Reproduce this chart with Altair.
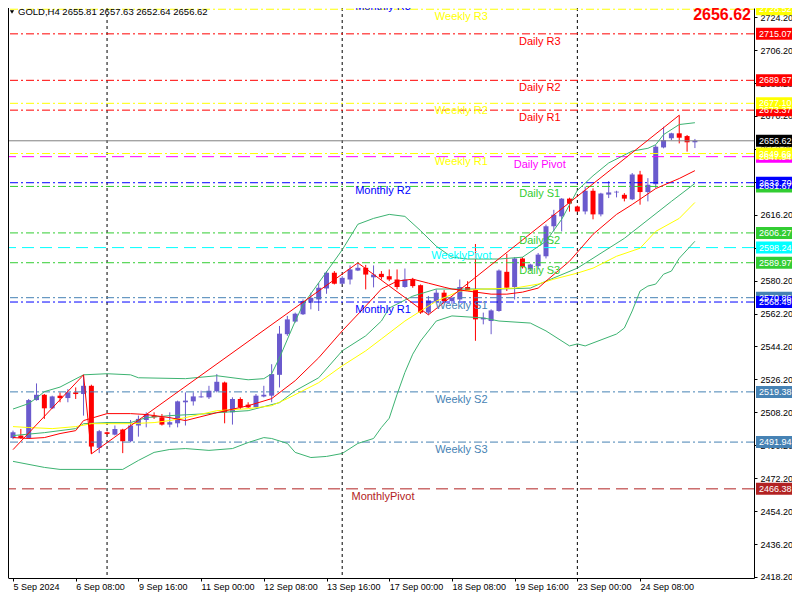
import altair as alt
import pandas as pd

# ---------------- data ----------------
SYMBOL = "GOLD,H4"
TIME_LABELS = ["5 Sep 2024", "6 Sep 08:00", "9 Sep 16:00", "11 Sep 00:00", "12 Sep 08:00",
               "13 Sep 16:00", "17 Sep 00:00", "18 Sep 08:00", "19 Sep 16:00", "23 Sep 00:00",
               "24 Sep 08:00"]
TIME_TICK_BARS = [0, 8, 16, 24, 32, 40, 48, 56, 64, 72, 80]
WEEK_SEPARATORS = [12, 42, 72]
Y_TICKS = [2418.20, 2436.20, 2454.20, 2472.20, 2490.20, 2508.20, 2526.20, 2544.20, 2562.20,
           2580.20, 2598.20, 2616.20, 2634.20, 2652.20, 2670.20, 2688.20, 2706.20, 2724.20]

OPEN = [2494.2, 2495.5, 2494.2, 2514.9, 2517.8, 2510.4, 2517.3, 2516.0, 2519.1, 2518.2,
        2522.7, 2488.8, 2497.3, 2496.0, 2498.8, 2492.4, 2501.0, 2504.0, 2506.4, 2505.5,
        2501.5, 2502.2, 2513.7, 2514.2, 2516.4, 2516.4, 2519.7, 2524.5, 2508.2, 2515.5,
        2512.4, 2511.0, 2516.9, 2517.3, 2528.7, 2550.9, 2557.8, 2561.8, 2568.1, 2569.9,
        2575.9, 2584.5, 2578.5, 2580.8, 2585.7, 2587.2, 2582.0, 2583.9, 2582.6, 2580.8,
        2576.7, 2580.8, 2577.7, 2562.7, 2568.7, 2573.6, 2569.0, 2569.9, 2576.7, 2575.4,
        2559.0, 2558.1, 2563.6, 2585.0, 2576.7, 2592.3, 2586.3, 2588.1, 2593.5, 2609.9,
        2615.3, 2625.0, 2620.7, 2618.0, 2629.3, 2616.4, 2627.2, 2628.4, 2627.1, 2624.6,
        2638.2, 2628.6, 2632.9, 2653.0, 2658.0, 2660.7, 2659.2, 2655.81]
HIGH = [2498.2, 2499.1, 2515.5, 2524.0, 2518.2, 2517.3, 2519.1, 2520.9, 2521.8, 2528.7,
        2523.3, 2498.6, 2497.7, 2501.0, 2499.2, 2504.0, 2506.4, 2508.2, 2508.2, 2507.3,
        2508.2, 2514.6, 2519.1, 2519.1, 2520.0, 2522.7, 2529.1, 2525.0, 2516.4, 2516.4,
        2513.7, 2518.2, 2522.7, 2534.5, 2555.4, 2560.9, 2562.7, 2569.9, 2573.6, 2579.0,
        2585.4, 2585.4, 2582.6, 2588.5, 2589.9, 2588.8, 2588.5, 2585.4, 2586.3, 2586.3,
        2586.8, 2581.7, 2578.1, 2571.8, 2575.4, 2575.0, 2571.5, 2580.8, 2579.9, 2600.2,
        2562.7, 2564.5, 2586.3, 2594.8, 2593.0, 2593.0, 2589.4, 2595.3, 2610.8, 2618.9,
        2625.3, 2625.5, 2621.2, 2631.6, 2630.6, 2628.2, 2634.6, 2629.3, 2628.0, 2639.0,
        2640.2, 2636.2, 2654.3, 2664.3, 2661.0, 2670.6, 2659.8, 2657.63]
LOW = [2493.5, 2493.7, 2493.7, 2514.6, 2504.6, 2510.0, 2513.7, 2513.7, 2515.5, 2506.4,
       2485.5, 2485.9, 2496.0, 2495.6, 2485.9, 2491.8, 2494.9, 2500.0, 2504.6, 2501.0,
       2500.0, 2500.0, 2501.0, 2511.9, 2516.2, 2515.5, 2519.1, 2502.2, 2501.5, 2510.0,
       2510.6, 2510.9, 2516.4, 2513.7, 2521.8, 2550.0, 2557.2, 2561.4, 2564.5, 2563.6,
       2573.0, 2578.1, 2578.1, 2578.1, 2585.4, 2575.4, 2576.5, 2580.8, 2579.9, 2575.4,
       2576.3, 2576.3, 2562.0, 2561.5, 2568.1, 2568.1, 2567.5, 2569.0, 2574.5, 2547.3,
       2556.3, 2550.9, 2563.2, 2574.5, 2569.9, 2586.8, 2585.4, 2586.3, 2592.3, 2607.1,
       2607.1, 2617.9, 2617.7, 2616.4, 2613.7, 2615.3, 2625.3, 2625.7, 2623.5, 2624.2,
       2621.7, 2623.5, 2630.8, 2652.5, 2657.0, 2655.2, 2650.7, 2652.64]
CLOSE = [2497.3, 2494.2, 2514.9, 2517.8, 2510.4, 2516.9, 2516.0, 2519.1, 2518.2, 2522.7,
         2489.5, 2497.9, 2496.4, 2499.1, 2492.4, 2501.0, 2504.6, 2507.3, 2505.5, 2501.5,
         2502.8, 2514.2, 2514.6, 2516.9, 2516.9, 2520.0, 2524.9, 2508.2, 2515.5, 2510.9,
         2510.9, 2517.3, 2517.8, 2529.1, 2551.2, 2559.0, 2562.1, 2569.0, 2570.8, 2576.3,
         2584.5, 2578.5, 2581.7, 2586.3, 2587.2, 2583.5, 2583.5, 2582.1, 2580.8, 2576.7,
         2580.8, 2577.2, 2562.7, 2569.4, 2573.6, 2569.0, 2570.8, 2576.7, 2574.9, 2559.0,
         2559.9, 2563.9, 2585.7, 2576.3, 2592.3, 2587.5, 2589.0, 2594.4, 2609.9, 2616.2,
         2625.0, 2622.3, 2618.0, 2629.3, 2616.4, 2627.8, 2628.4, 2628.8, 2625.0, 2638.2,
         2628.6, 2632.6, 2653.4, 2657.0, 2660.7, 2658.3, 2655.8, 2656.62]

# Bollinger upper / middle / lower (green), red MA, yellow MA, zigzag
UB_X = [0, 2, 3, 4, 6, 9, 12, 15, 16, 22, 26, 30, 32, 33, 34, 36, 37, 38, 39, 40, 42, 44, 46,
        48, 50, 52, 54, 56, 58, 62, 65, 68, 70, 72, 74, 76, 79, 81, 82, 83, 85, 87]
UB_Y = [2510.0, 2513.0, 2516.0, 2519.5, 2522.0, 2528.7, 2529.3, 2528.7, 2527.1, 2526.6,
        2528.2, 2526.0, 2526.6, 2529.3, 2538.0, 2558.0, 2567.0, 2573.0, 2579.0, 2585.0,
        2597.0, 2611.0, 2614.2, 2616.4, 2615.3, 2607.5, 2599.0, 2593.0, 2592.0, 2592.0,
        2593.0, 2601.7, 2613.7, 2629.5, 2637.5, 2644.5, 2651.0, 2652.5, 2654.5, 2660.0,
        2665.5, 2666.5]
LB_X = [0, 4, 6, 14, 16, 18, 20, 22, 25, 28, 30, 32, 33, 35, 36, 38, 40, 42, 44, 46, 47, 48,
        49, 50, 51, 52, 54, 56, 60, 62, 66, 68, 71, 72, 73, 77, 78, 79, 80, 81, 82, 83, 84,
        85, 87]
LB_Y = [2481.4, 2478.1, 2477.0, 2477.0, 2481.9, 2486.3, 2487.9, 2488.4, 2487.4, 2488.4,
        2491.7, 2494.4, 2493.9, 2491.2, 2486.3, 2483.5, 2484.1, 2485.7, 2491.2, 2493.9,
        2499.9, 2505.0, 2518.0, 2530.0, 2540.0, 2547.2, 2558.1, 2560.9, 2559.8, 2558.1,
        2557.0, 2552.7, 2544.5, 2545.6, 2544.5, 2551.0, 2554.3, 2563.6, 2574.5, 2577.2,
        2578.3, 2583.7, 2585.4, 2592.4, 2601.7]
MB_X = [0, 4, 6, 8, 9, 12, 15, 17, 20, 25, 26, 30, 34, 36, 39, 42, 45, 47, 48, 51, 54, 58,
        62, 66, 68, 72, 78, 84, 87]
MB_Y = [2495.5, 2497.1, 2498.2, 2499.3, 2502.0, 2502.6, 2502.6, 2505.3, 2506.4, 2507.5,
        2508.0, 2509.1, 2513.5, 2520.0, 2527.1, 2541.8, 2550.0, 2558.1, 2565.2, 2571.7,
        2575.6, 2575.6, 2575.6, 2576.1, 2579.9, 2587.0, 2603.3, 2623.5, 2633.3]
RMA_X = [0, 2, 4, 6, 8, 9, 12, 15, 17, 20, 22, 26, 30, 33, 36, 39, 42, 45, 47, 49, 51, 53,
         55, 56, 58, 61, 63, 65, 67, 68, 71, 74, 77, 79, 82, 85, 87]
RMA_Y = [2494.4, 2493.9, 2494.4, 2496.6, 2498.2, 2503.7, 2507.5, 2507.5, 2507.0, 2505.3,
         2503.7, 2508.0, 2511.8, 2515.7, 2525.5, 2538.0, 2552.7, 2566.3, 2575.6, 2579.9,
         2581.0, 2578.8, 2576.6, 2575.6, 2574.5, 2572.8, 2572.8, 2573.9, 2576.1, 2579.9,
         2590.8, 2605.5, 2616.4, 2621.8, 2630.5, 2636.0, 2640.3]
YMA_X = [0, 2, 5, 8, 10, 12, 15, 18, 20, 22, 26, 30, 33, 35, 39, 42, 45, 47, 50, 54, 57, 60,
         64, 67, 69, 72, 74, 77, 80, 82, 85, 87]
YMA_Y = [2500.4, 2499.9, 2499.3, 2500.4, 2502.0, 2502.0, 2502.0, 2502.6, 2503.7, 2505.3,
         2509.1, 2510.2, 2511.8, 2515.7, 2524.4, 2533.6, 2541.8, 2548.3, 2558.1, 2569.0,
         2574.5, 2575.6, 2576.1, 2578.3, 2581.0, 2584.3, 2587.0, 2593.5, 2597.9, 2607.1,
         2614.2, 2622.9]
ZZ_X = [0, 9, 10, 44, 53, 85]
ZZ_Y = [2487.8, 2528.7, 2485.5, 2589.9, 2561.5, 2670.6]

# pivot levels
LEVEL_NAMES = ["Daily R3", "Daily R2", "Daily R1", "Daily Pivot", "Daily S1", "Daily S2",
               "Daily S3", "Weekly R3", "Weekly R2", "Weekly R1", "WeeklyPivot", "Weekly S1",
               "Weekly S2", "Weekly S3", "Monthly R3", "Monthly R2", "Monthly R1",
               "MonthlyPivot"]
LEVEL_PRICES = [2715.07, 2689.67, 2673.37, 2647.94, 2631.67, 2606.27, 2589.97, 2728.52,
                2677.10, 2649.66, 2598.24, 2570.86, 2519.38, 2491.94, 2734.00, 2633.70,
                2568.49, 2466.38]
LEVEL_KIND = ["DR", "DR", "DR", "DP", "DS", "DS", "DS", "WR", "WR", "WR", "WP", "WS", "WS",
              "WS", "MR", "MR", "MR", "MP"]

# ---------------- styles ----------------
FONT = "Liberation Sans"
W, H = 746, 570
Y_DOMAIN = [2417.65, 2729.2]
X_DOMAIN = [0, 93.9]
BULL, BEAR = "#6a5acd", "#ff0000"
KIND_COLOR = {"DR": "#ff0000", "DP": "#ff00ff", "DS": "#32cd32", "WR": "#ffff00",
              "WP": "#00ffff", "WS": "#4682b4", "MR": "#0000ff", "MP": "#b22222"}
KIND_DASH = {"DR": "dashdot", "DP": "longdash", "DS": "dashdot", "WR": "dashdot",
             "WP": "longdash", "WS": "dashdot", "MR": "dashdot", "MP": "longdash"}
KIND_TEXT_BAR = {"D": 67.2, "W": 57.2, "M": 47.2}
KIND_ORDER = {"D": 0, "W": 1, "M": 2}
GREEN = "#3cb371"

# ---------------- tables ----------------
candles = pd.DataFrame({"bar": list(range(len(OPEN))), "open": OPEN, "high": HIGH,
                        "low": LOW, "close": CLOSE})
candles["color"] = [BULL if c >= o else BEAR for o, c in zip(OPEN, CLOSE)]

levels = pd.DataFrame({"name": LEVEL_NAMES, "price": LEVEL_PRICES, "kind": LEVEL_KIND})
levels["color"] = levels["kind"].map(KIND_COLOR)
levels["dash"] = levels["kind"].map(KIND_DASH)
levels["tbar"] = levels["kind"].str[0].map(KIND_TEXT_BAR)
levels["order"] = levels["kind"].str[0].map(KIND_ORDER)

boxes = levels[(levels["price"] <= Y_DOMAIN[1] + 1) & (levels["price"] >= Y_DOMAIN[0])]
boxes = boxes.sort_values("order", kind="stable")[["price", "color"]]
boxes = pd.concat([boxes, pd.DataFrame({"price": [CLOSE[-1]], "color": ["#000000"]})],
                  ignore_index=True)
boxes["label"] = [f"{p:.2f}" for p in boxes["price"]]

series = []
for name, xs_, ys_, col in [("ub", UB_X, UB_Y, GREEN), ("lb", LB_X, LB_Y, GREEN),
                            ("mb", MB_X, MB_Y, GREEN), ("yma", YMA_X, YMA_Y, "#ffff00"),
                            ("rma", RMA_X, RMA_Y, "#ff0000"), ("zz", ZZ_X, ZZ_Y, "#ff0000")]:
    series.append(pd.DataFrame({"series": name, "bar": xs_, "value": ys_, "color": col}))
lines = pd.concat(series, ignore_index=True)

seps = pd.DataFrame({"bar": WEEK_SEPARATORS})
cur = pd.DataFrame({"price": [CLOSE[-1]], "t": [f"{CLOSE[-1]:.2f}"]})
header = pd.DataFrame({"t": [f"{SYMBOL}  {OPEN[-1]:.2f} {HIGH[-1]:.2f} {LOW[-1]:.2f} {CLOSE[-1]:.2f}"]})

# ---------------- scales / axes ----------------
label_expr = "[" + ",".join("'%s'" % s for s in TIME_LABELS) + "][round(datum.value / 8)]"
xscale = alt.Scale(domain=X_DOMAIN, nice=False, zero=False)
yscale = alt.Scale(domain=Y_DOMAIN, nice=False, zero=False)
x_axis = alt.Axis(values=TIME_TICK_BARS, labelExpr=label_expr, title=None, grid=False,
                  domainColor="black", tickColor="black", tickSize=3, labelAlign="left",
                  labelBaseline="top", labelPadding=1, labelFont=FONT, labelFontSize=9,
                  labelColor="black", labelFlush=False, labelOverlap=False)
y_axis = alt.Axis(orient="right", values=Y_TICKS, format=".2f", title=None, grid=False,
                  domainColor="black", tickColor="black", tickSize=3, labelAlign="left",
                  labelBaseline="middle", labelPadding=3, labelFont=FONT, labelFontSize=9,
                  labelColor="black", labelOverlap=False, labelFlush=False)


def X(f):
    return alt.X(f"{f}:Q", scale=xscale, axis=x_axis)


def Y(f):
    return alt.Y(f"{f}:Q", scale=yscale, axis=y_axis)


nocol = lambda f: alt.Color(f"{f}:N", scale=None, legend=None)

sep_layer = alt.Chart(seps).mark_rule(color="black", strokeDash=[3, 3], strokeWidth=1).encode(
    x=X("bar"))

wicks = alt.Chart(candles).mark_rule(strokeWidth=1, clip=True).encode(
    x=X("bar"), y=Y("low"), y2=alt.Y2("high"), color=nocol("color"))
bodies = alt.Chart(candles).mark_bar(size=5, clip=True).encode(
    x=X("bar"), y=Y("open"), y2=alt.Y2("close"), color=nocol("color"))

level_rules = alt.Chart(levels).mark_rule(strokeWidth=1, clip=True).encode(
    y=Y("price"), color=nocol("color"),
    strokeDash=alt.StrokeDash("dash:N", scale=alt.Scale(
        domain=["dashdot", "longdash"], range=[[8, 3, 2, 3], [12, 6]]), legend=None))

cur_line = alt.Chart(cur).mark_rule(color="#808080", strokeWidth=1).encode(y=Y("price"))

ind_lines = alt.Chart(lines).mark_line(strokeWidth=1, clip=True).encode(
    x=X("bar"), y=Y("value"), color=nocol("color"), detail="series:N")

level_text = alt.Chart(levels).mark_text(align="center", baseline="top", dy=2, font=FONT,
                                         fontSize=11, clip=True).encode(
    x=X("tbar"), y=Y("price"), text="name:N", color=nocol("color"))

box_rects = alt.Chart(boxes).mark_rect(clip=False, yOffset=-6, y2Offset=6).encode(
    x=alt.value(W + 2), x2=alt.value(W + 38), y=Y("price"), y2=alt.Y2("price"),
    color=nocol("color"))
box_text = alt.Chart(boxes).mark_text(align="left", baseline="middle", font=FONT, fontSize=9,
                                      color="white", clip=False).encode(
    x=alt.value(W + 5), y=Y("price"), text="label:N")

big_price = alt.Chart(cur).mark_text(align="right", baseline="middle", font=FONT, fontSize=16,
                                     fontWeight="bold", color="#ff0000").encode(
    x=alt.value(W - 3), y=alt.value(7), text="t:N")
head = alt.Chart(header).mark_text(align="left", baseline="middle", font=FONT, fontSize=9.5,
                                   color="black").encode(
    x=alt.value(10), y=alt.value(4), text="t:N")
tri = alt.Chart(header).mark_point(shape="triangle-down", filled=True, size=18,
                                   color="black", opacity=1).encode(
    x=alt.value(4), y=alt.value(4))
left_border = alt.Chart(header).mark_rule(color="black", strokeWidth=1).encode(
    x=alt.value(0.5), y=alt.value(0), y2=alt.value(H))

chart = alt.layer(
    sep_layer, wicks, bodies, level_rules, cur_line, ind_lines, level_text,
    box_rects, box_text, big_price, head, tri, left_border
).properties(
    width=W, height=H,
    autosize=alt.AutoSizeParams(type="none"),
    padding={"left": 0, "top": 0, "right": 38, "bottom": 14},
    background="white",
).configure_view(stroke=None)

chart.save("out.html", embed_options={"renderer": "svg", "actions": False})
